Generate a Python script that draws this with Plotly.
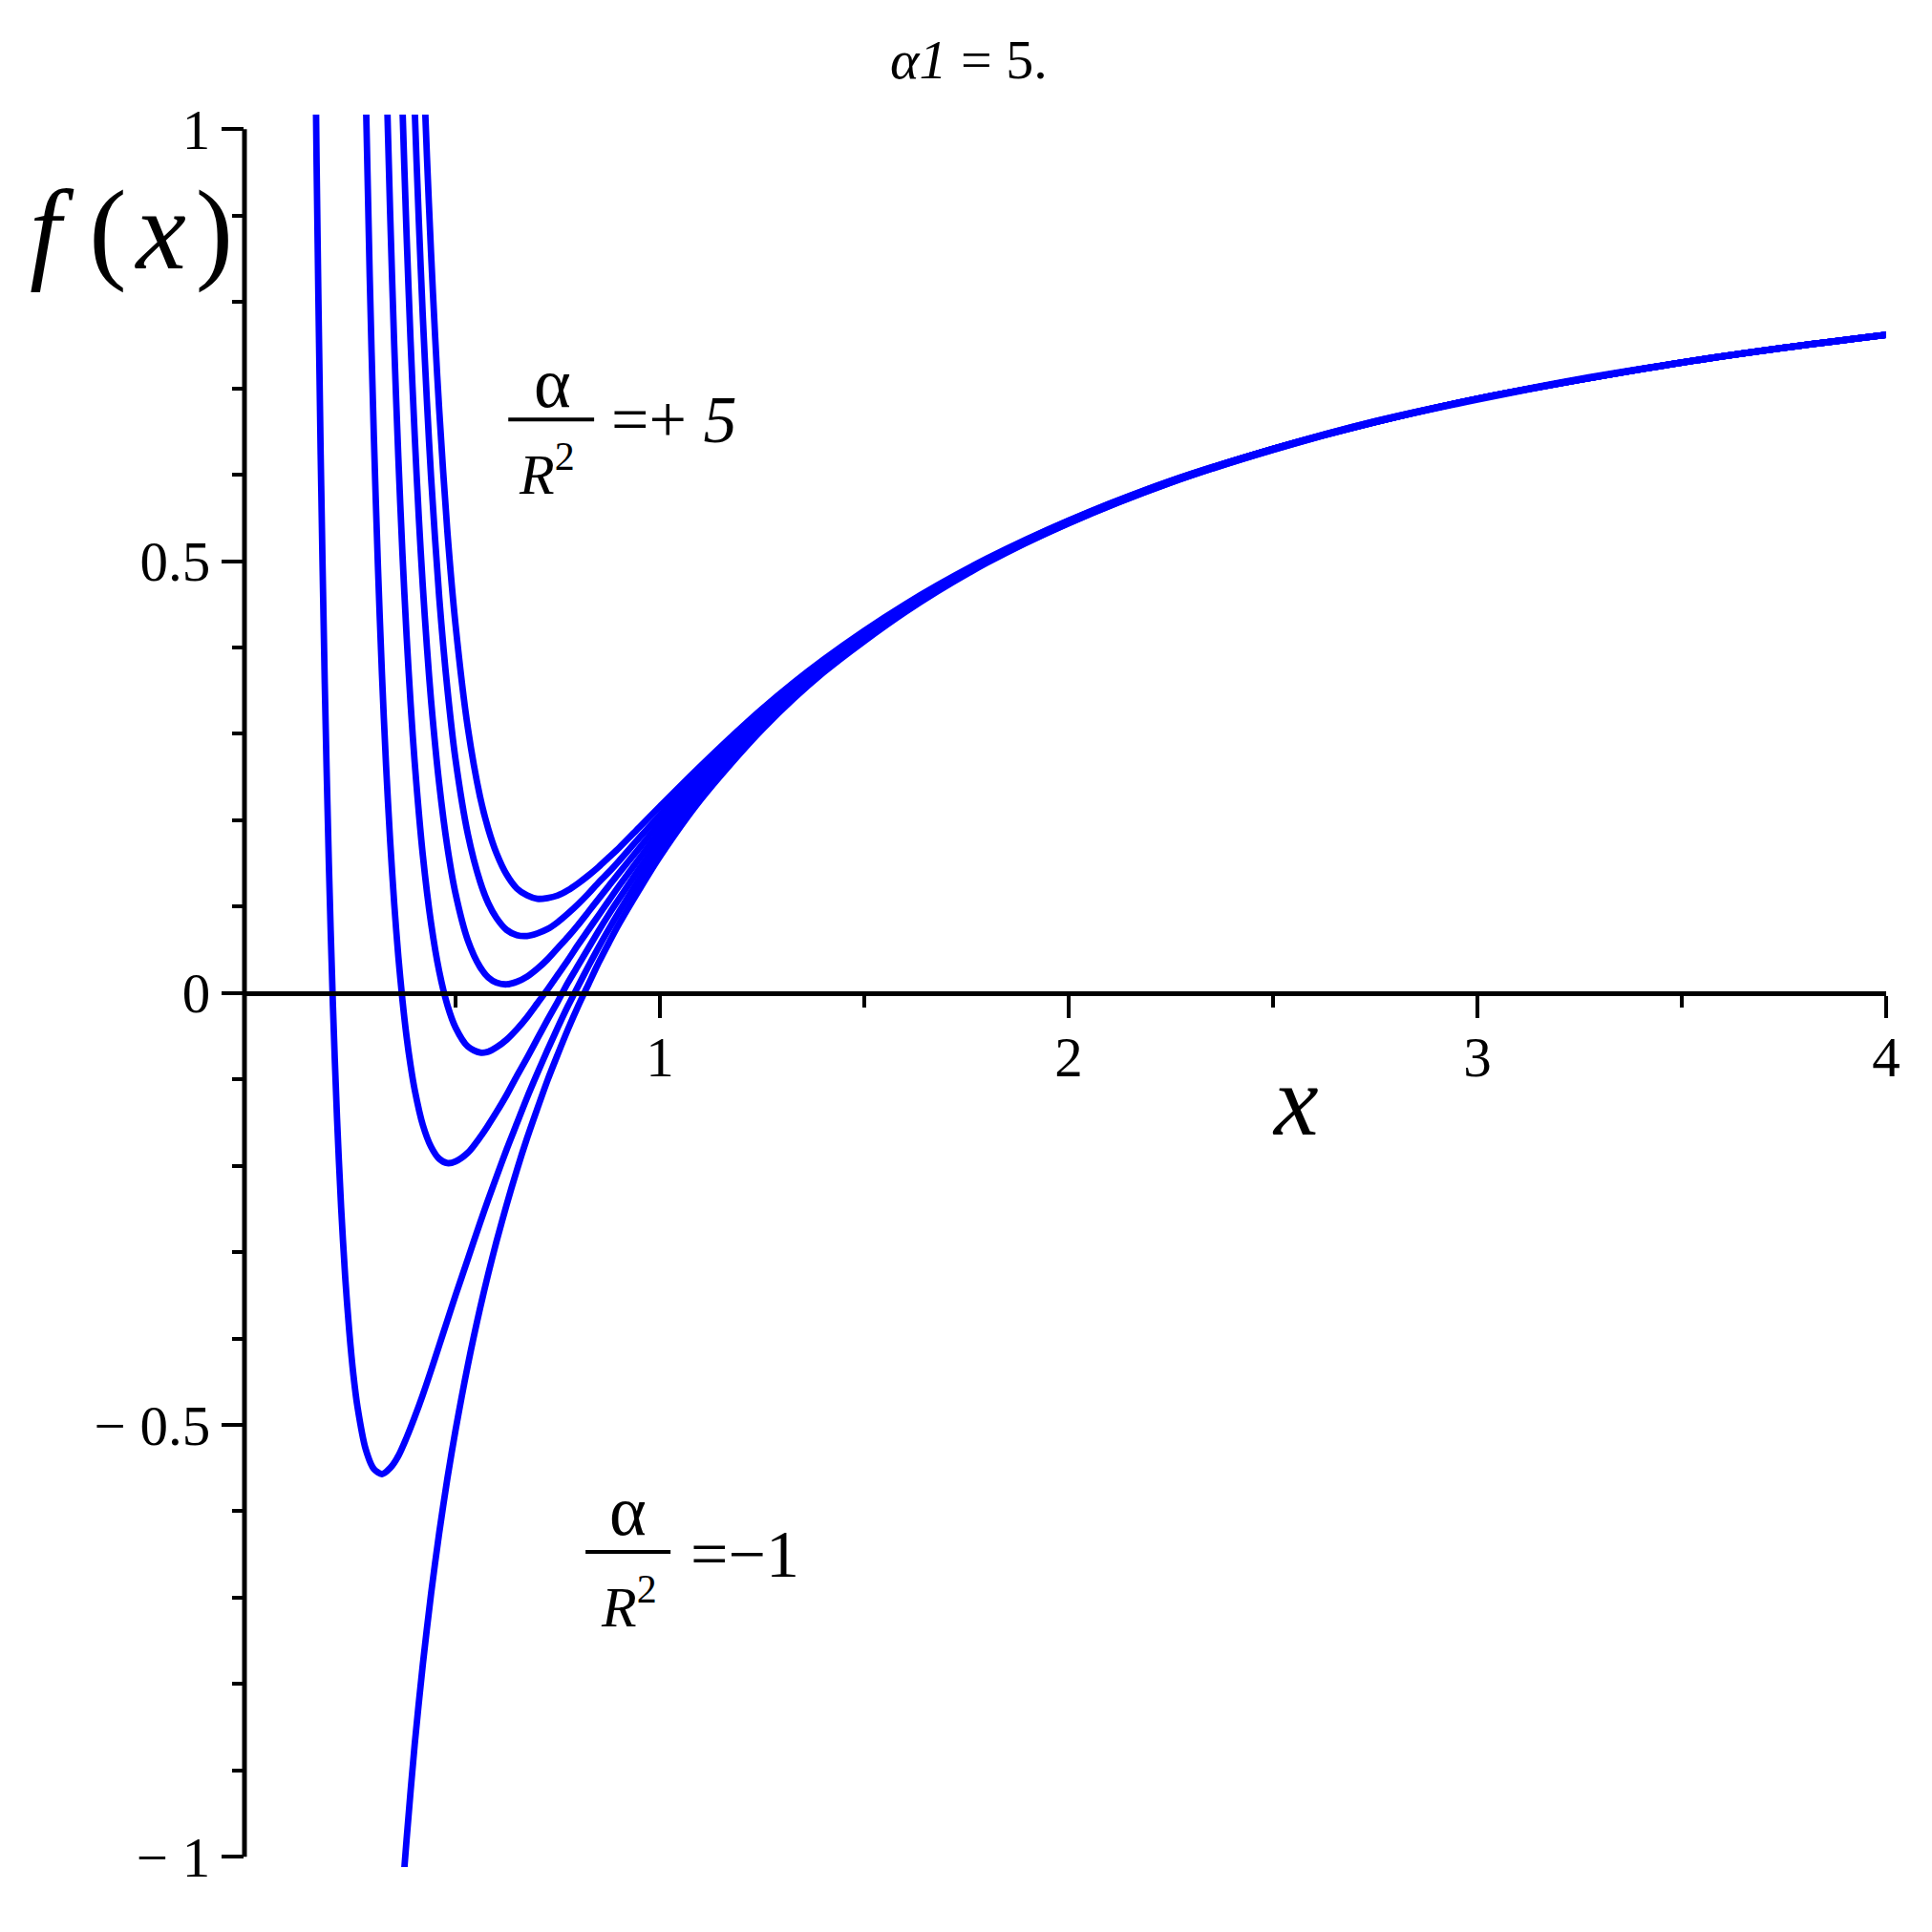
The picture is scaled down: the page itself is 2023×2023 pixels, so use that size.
import plotly.graph_objects as go

# ---- data ----
TAIL_X = [1.0, 1.1, 1.25, 1.4, 1.6, 1.8, 2.0, 2.25, 2.5, 2.75, 3.0, 3.25, 3.5, 3.75, 4.0]

xA = [0.41, 0.42, 0.43, 0.44, 0.45, 0.46, 0.48, 0.50, 0.53, 0.56, 0.58, 0.60, 0.625, 0.65, 0.675, 0.70, 0.725,
      0.75, 0.775, 0.80, 0.825, 0.85, 0.875, 0.90, 0.95] + TAIL_X
yA = [1.238, 1.094, 0.968, 0.857, 0.760, 0.675, 0.534, 0.426, 0.307, 0.227, 0.190, 0.162, 0.137, 0.121, 0.113,
      0.109, 0.110, 0.113, 0.119, 0.127, 0.136, 0.146, 0.157, 0.168, 0.192,
      0.216, 0.263, 0.329, 0.386, 0.450, 0.503, 0.547, 0.593, 0.630, 0.662, 0.688, 0.711, 0.730, 0.747, 0.762]

xB = [0.39, 0.40, 0.41, 0.42, 0.43, 0.44, 0.46, 0.48, 0.50, 0.53, 0.56, 0.58, 0.60, 0.625, 0.65, 0.675, 0.70,
      0.725, 0.75, 0.775, 0.80, 0.825, 0.85, 0.875, 0.90, 0.95] + TAIL_X
yB = [1.174, 1.024, 0.895, 0.782, 0.684, 0.598, 0.458, 0.352, 0.270, 0.184, 0.129, 0.104, 0.087, 0.073, 0.067,
      0.066, 0.069, 0.074, 0.082, 0.092, 0.103, 0.115, 0.128, 0.140, 0.153, 0.180,
      0.206, 0.257, 0.325, 0.383, 0.449, 0.502, 0.547, 0.593, 0.630, 0.662, 0.688, 0.710, 0.730, 0.747, 0.762]

xC = [0.36, 0.37, 0.38, 0.39, 0.40, 0.41, 0.42, 0.43, 0.44, 0.46, 0.48, 0.50, 0.53, 0.56, 0.58, 0.60, 0.625,
      0.65, 0.675, 0.70, 0.725, 0.75, 0.775, 0.80, 0.825, 0.85, 0.875, 0.90, 0.95] + TAIL_X
yC = [1.197, 1.027, 0.880, 0.754, 0.646, 0.551, 0.470, 0.400, 0.339, 0.242, 0.169, 0.115, 0.061, 0.030, 0.018,
      0.012, 0.010, 0.013, 0.019, 0.028, 0.039, 0.052, 0.065, 0.079, 0.094, 0.109, 0.124, 0.139, 0.168,
      0.197, 0.250, 0.321, 0.381, 0.447, 0.501, 0.546, 0.592, 0.630, 0.661, 0.688, 0.710, 0.730, 0.747, 0.762]

xD = [0.32, 0.33, 0.34, 0.35, 0.36, 0.37, 0.38, 0.39, 0.40, 0.42, 0.44, 0.46, 0.48, 0.50, 0.53, 0.56, 0.58,
      0.60, 0.625, 0.65, 0.675, 0.70, 0.725, 0.75, 0.775, 0.80, 0.825, 0.85, 0.875, 0.90, 0.95] + TAIL_X
yD = [1.294, 1.081, 0.902, 0.749, 0.620, 0.509, 0.415, 0.335, 0.267, 0.159, 0.081, 0.025, -0.014, -0.040,
      -0.062, -0.069, -0.068, -0.063, -0.054, -0.042, -0.028, -0.012, 0.004, 0.021, 0.038, 0.056, 0.073,
      0.090, 0.107, 0.124, 0.156,
      0.187, 0.243, 0.317, 0.378, 0.446, 0.500, 0.546, 0.592, 0.630, 0.661, 0.688, 0.710, 0.730, 0.747, 0.762]

xE = [0.28, 0.29, 0.30, 0.31, 0.32, 0.33, 0.34, 0.35, 0.36, 0.37, 0.38, 0.39, 0.40, 0.42, 0.44, 0.46, 0.48,
      0.50, 0.53, 0.56, 0.58, 0.60, 0.625, 0.65, 0.675, 0.70, 0.725, 0.75, 0.775, 0.80, 0.825, 0.85, 0.875,
      0.90, 0.95] + TAIL_X
yE = [1.050, 0.829, 0.646, 0.495, 0.368, 0.263, 0.176, 0.103, 0.042, -0.008, -0.050, -0.084, -0.112, -0.153,
      -0.178, -0.192, -0.197, -0.195, -0.185, -0.167, -0.153, -0.138, -0.118, -0.096, -0.075, -0.053, -0.031,
      -0.010, 0.012, 0.032, 0.052, 0.072, 0.091, 0.109, 0.144,
      0.177, 0.237, 0.313, 0.376, 0.444, 0.500, 0.545, 0.592, 0.630, 0.661, 0.688, 0.710, 0.730, 0.747, 0.762]

xF = [0.15, 0.16, 0.17, 0.18, 0.19, 0.20, 0.21, 0.22, 0.23, 0.24, 0.25, 0.26, 0.28, 0.30, 0.32, 0.34, 0.36,
      0.38, 0.40, 0.42, 0.44, 0.46, 0.48, 0.50, 0.53, 0.56, 0.58, 0.60, 0.625, 0.65, 0.675, 0.70, 0.725, 0.75,
      0.775, 0.80, 0.825, 0.85, 0.875, 0.90, 0.95] + TAIL_X
yF = [1.396, 0.961, 0.623, 0.358, 0.150, -0.015, -0.145, -0.248, -0.329, -0.392, -0.442, -0.479, -0.528,
      -0.551, -0.557, -0.550, -0.536, -0.515, -0.491, -0.465, -0.437, -0.408, -0.379, -0.350, -0.308, -0.266,
      -0.239, -0.213, -0.181, -0.151, -0.121, -0.093, -0.066, -0.040, -0.015, 0.008, 0.031, 0.053, 0.074,
      0.094, 0.132,
      0.167, 0.230, 0.309, 0.373, 0.443, 0.499, 0.544, 0.591, 0.629, 0.661, 0.688, 0.710, 0.730, 0.747, 0.762]

xG = [0.36, 0.37, 0.38, 0.40, 0.42, 0.44, 0.46, 0.48, 0.50, 0.53, 0.56, 0.58, 0.60, 0.625, 0.65, 0.675, 0.70,
      0.725, 0.75, 0.775, 0.80, 0.825, 0.85, 0.875, 0.90, 0.95] + TAIL_X
yG = [-1.113, -1.044, -0.981, -0.870, -0.777, -0.696, -0.625, -0.562, -0.506, -0.431, -0.365, -0.325, -0.288,
      -0.245, -0.205, -0.168, -0.134, -0.101, -0.071, -0.042, -0.015, 0.010, 0.035, 0.058, 0.080, 0.120,
      0.158, 0.224, 0.305, 0.371, 0.441, 0.498, 0.544, 0.591, 0.629, 0.661, 0.687, 0.710, 0.730, 0.747, 0.762]

series = [(xA, yA), (xB, yB), (xC, yC), (xD, yD), (xE, yE), (xF, yF), (xG, yG)]

x_major = [1, 2, 3, 4]
x_major_text = ["1", "2", "3", "4"]
x_minor = [0.5, 1.5, 2.5, 3.5]
y_major = [-1, -0.5, 0, 0.5, 1]
y_major_text = ["\u2212 1", "\u2212 0.5", "0", "0.5", "1"]
y_minor = [-0.9, -0.8, -0.7, -0.6, -0.4, -0.3, -0.2, -0.1, 0.1, 0.2, 0.3, 0.4, 0.6, 0.7, 0.8, 0.9]

SERIF = "Liberation Serif, Times New Roman, serif"
BLUE = "#0000ff"

fig = go.Figure()
for xs, ys in series:
    fig.add_trace(go.Scatter(x=xs, y=ys, mode="lines",
                             line=dict(color=BLUE, width=6.8, shape="spline", smoothing=0.8),
                             showlegend=False, hoverinfo="skip"))

YR = [-1.012, 1.017]
x_axis_pos = (0 - YR[0]) / (YR[1] - YR[0])

fig.update_layout(
    width=2023, height=2023,
    margin=dict(l=248, r=56, t=112, b=76),
    paper_bgcolor="white", plot_bgcolor="white",
    font=dict(family=SERIF, color="black"),
    xaxis=dict(range=[-0.0164, 4.0], showgrid=False, zeroline=False,
               showline=True, linecolor="black", linewidth=5,
               anchor="free", position=x_axis_pos,
               ticks="outside", ticklen=23, tickwidth=4, tickcolor="black",
               tickmode="array", tickvals=x_major, ticktext=x_major_text,
               ticklabelstandoff=-10,
               tickfont=dict(family=SERIF, size=59, color="black"),
               minor=dict(tickmode="array", tickvals=x_minor, ticks="outside",
                          ticklen=12, tickwidth=4, tickcolor="black")),
    yaxis=dict(range=YR, showgrid=False, zeroline=False, showline=False,
               ticks="outside", ticklen=23, tickwidth=4, tickcolor="black",
               tickmode="array", tickvals=y_major, ticktext=y_major_text,
               tickfont=dict(family=SERIF, size=59, color="black"),
               minor=dict(tickmode="array", tickvals=y_minor, ticks="outside",
                          ticklen=12, tickwidth=4, tickcolor="black")),
)

# y axis line (spans -1..1 only)
fig.add_shape(type="line", xref="paper", x0=0, x1=0, yref="y", y0=-1, y1=1,
              line=dict(color="black", width=5), layer="above")
# fraction bars
fig.add_shape(type="line", xref="x", yref="y", x0=0.629, x1=0.839, y0=0.664, y1=0.664,
              line=dict(color="black", width=4), layer="above")
fig.add_shape(type="line", xref="x", yref="y", x0=0.818, x1=1.026, y0=-0.647, y1=-0.647,
              line=dict(color="black", width=4), layer="above")

def ann(text, x, y, size, xref="x", yref="y"):
    fig.add_annotation(text=text, x=x, y=y, xref=xref, yref=yref, showarrow=False,
                       xanchor="center", yanchor="middle",
                       font=dict(family=SERIF, size=size, color="black"))

# title
ann("<i>\u03b11</i> = 5.", 0.441, 1.0316, 58, "paper", "paper")
# axis labels
ann("<i>f</i> (\u200a<i>x</i>\u200a)", -0.069, 0.934, 118, "paper", "paper")
ann("<i>x</i>", 2.554, -0.125, 105)
# +5 label
ann("\u03b1", 0.736, 0.706, 74)
ann("<i>R</i><sup>2</sup>", 0.723, 0.605, 60)
ann("=+ <i>5</i>", 1.035, 0.664, 70)
# -1 label
ann("\u03b1", 0.921, -0.600, 74)
ann("<i>R</i><sup>2</sup>", 0.925, -0.706, 60)
ann("=\u22121", 1.208, -0.650, 70)

fig.write_html("out.html")
